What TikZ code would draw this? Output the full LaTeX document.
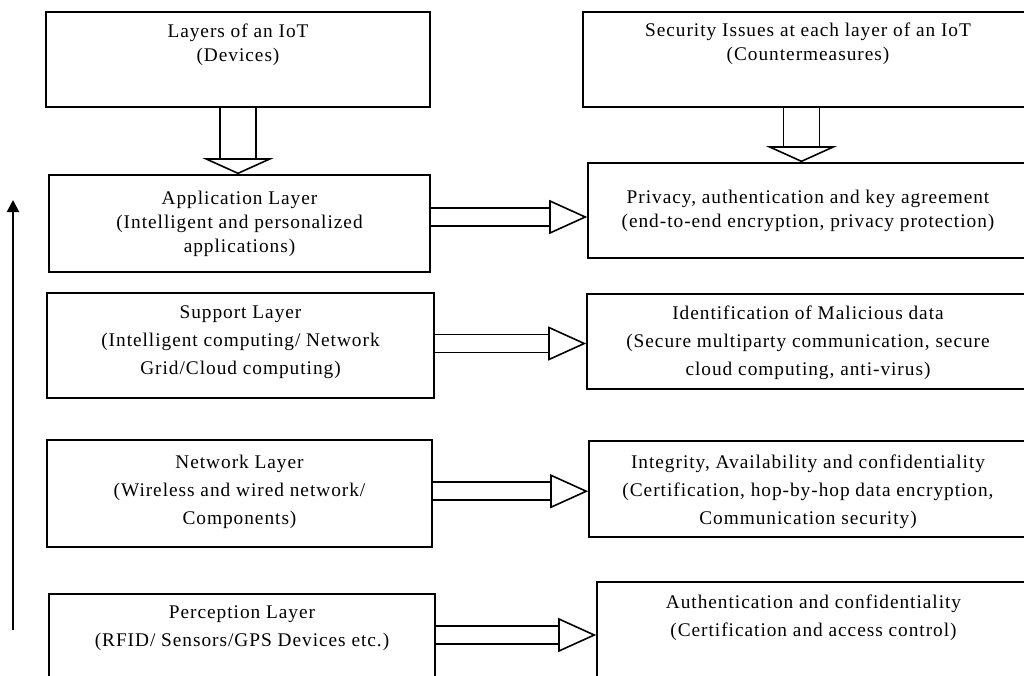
\documentclass[tikz,border=0pt]{standalone}
\usepackage{fontspec}
\setmainfont{Liberation Serif}[LetterSpace=5]
\usetikzlibrary{arrows.meta, positioning, calc}

\tikzset{
  box/.style={draw, line width=1.2pt, inner sep=0pt},
  txt/.style={align=center, inner sep=0pt, font=\fontsize{14.5pt}{18pt}\selectfont},
  txtloose/.style={txt, font=\fontsize{14.5pt}{21pt}\selectfont},
  downblock/.style={double, double distance=26pt, line width=1.2pt,
    -{Triangle[open, length=12pt, width=53pt]}},
  sideblock/.style={double, double distance=12.3pt, line width=1.2pt,
    -{Triangle[open, length=28.5pt, width=25.5pt]}},
  uparrow/.style={line width=1.5pt, -{Triangle[length=9pt, width=9pt]}}
}

\begin{document}
\begin{tikzpicture}[x=0.75pt, y=-0.75pt]
  \useasboundingbox (0,0) rectangle (1024,675);
  \clip (0,0) rectangle (1024,675);

  % === LAYERS (left column) ===
  \node[box, minimum width=288pt, minimum height=71.25pt] (l0) at (238,59.5) {};
  \node[box, minimum width=285.75pt, minimum height=72.75pt] (l1) at (239.5,223.5) {};
  \node[box, minimum width=290.25pt, minimum height=78.75pt] (l2) at (240.5,345.5) {};
  \node[box, minimum width=288.75pt, minimum height=80.25pt] (l3) at (239.5,493.5) {};
  \node[box, minimum width=289.5pt, minimum height=94.5pt] (l4) at (242,657) {};

  \node[txt, below=9.5pt of l0.north] (t0) {Layers of an IoT\\(Devices)};
  \node[txt, below=12.5pt of l1.north] (t1) {Application Layer\\(Intelligent and personalized\\applications)};
  \node[txtloose, below=10.25pt of l2.north] (t2) {Support Layer\\(Intelligent computing/ Network\\Grid/Cloud computing)};
  \node[txtloose, below=11.75pt of l3.north] (t3) {Network Layer\\(Wireless and wired network/\\Components)};
  \node[txtloose, below=9.5pt of l4.north] (t4) {Perception Layer\\(RFID/ Sensors/GPS Devices etc.)};

  % === SECURITY ISSUES (right column) ===
  \node[box, minimum width=337.5pt, minimum height=71.25pt] (r0) at (808,59.5) {};
  \node[box, minimum width=330pt, minimum height=71.25pt] (r1) at (808,210.5) {};
  \node[box, minimum width=331.5pt, minimum height=71.25pt] (r2) at (808,341.5) {};
  \node[box, minimum width=328.5pt, minimum height=72pt] (r3) at (808,489) {};
  \node[box, minimum width=324.75pt, minimum height=103.5pt] (r4) at (813.5,651) {};

  \node[txt, below=8.75pt of r0.north] (s0) {Security Issues at each layer of an IoT\\(Countermeasures)};
  \node[txt, below=20.75pt of r1.north] (s1) {Privacy, authentication and key agreement\\(end-to-end encryption, privacy protection)};
  \node[txtloose, below=9.5pt of r2.north] (s2) {Identification of Malicious data\\(Secure multiparty communication, secure\\cloud computing, anti-virus)};
  \node[txtloose, below=11pt of r3.north] (s3) {Integrity, Availability and confidentiality\\(Certification, hop-by-hop data encryption,\\Communication security)};
  \node[txtloose, below=10.25pt of r4.north] (s4) {Authentication and confidentiality\\(Certification and access control)};

  % Block arrows
  \draw[downblock] (l0.south) -- (l0.south |- l1.north);
  \draw[downblock] ([xshift=-4.9pt]r0.south) -- ([xshift=-4.9pt]r0.south |- r1.north);

  \coordinate (m1) at ($(l1.east)!.5!(r1.west)$);
  \coordinate (m2) at ($(l2.east)!.5!(r2.west)$);
  \coordinate (m3) at ($(l3.east)!.5!(r3.west)$);
  \coordinate (m4) at (0,635);
  \foreach \i in {1,...,4}
    \draw[sideblock] (l\i.east |- m\i) -- (r\i.west |- m\i);

  % Bottom-up arrow
  \coordinate (up-s) at (13,630);
  \coordinate (up-e) at (13,200);
  \draw[uparrow] (up-s) -- (up-e);
\end{tikzpicture}
\end{document}
